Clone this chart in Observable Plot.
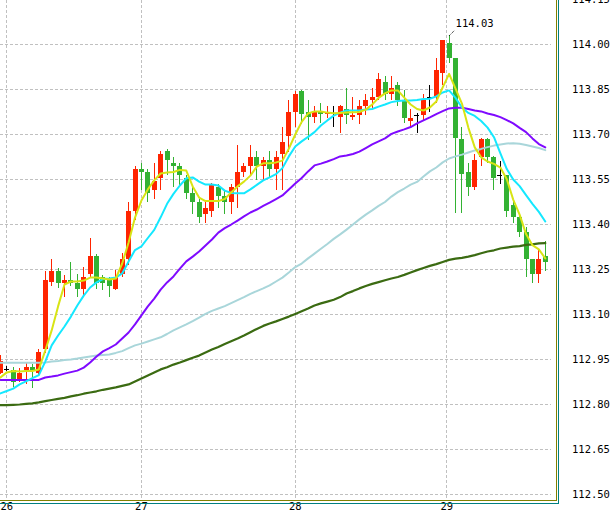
<!DOCTYPE html>
<html><head><meta charset="utf-8">
<script src="https://cdn.jsdelivr.net/npm/d3@7"></script>
<script src="https://cdn.jsdelivr.net/npm/@observablehq/plot@0.6"></script>
<style>html,body{margin:0;padding:0;background:#fff;}#chart svg{display:block;}</style>
</head><body><div id="chart"></div>
<script>
// Hourly candles (index 0..85)
const opens = [112.905,112.918,112.914,112.884,112.914,112.925,112.905,112.984,113.207,113.243,
113.205,113.214,113.205,113.185,113.235,113.294,113.223,113.214,113.185,113.234,
113.284,113.445,113.584,113.575,113.514,113.555,113.644,113.605,113.594,113.555,
113.505,113.475,113.434,113.445,113.525,113.495,113.475,113.525,113.575,113.595,
113.625,113.595,113.614,113.585,113.634,113.695,113.775,113.845,113.775,113.757,
113.775,113.767,113.772,113.757,113.783,113.757,113.765,113.794,113.814,113.825,
113.875,113.834,113.864,113.814,113.745,113.764,113.764,113.823,113.825,113.905,
114.005,113.953,113.684,113.573,113.525,113.625,113.684,113.625,113.563,113.563,
113.464,113.425,113.374,113.284,113.234,113.294];
const highs = [112.964,112.928,112.925,112.922,112.942,112.934,112.985,113.243,113.284,113.253,
113.232,113.273,113.233,113.259,113.355,113.301,113.231,113.225,113.248,113.303,
113.475,113.594,113.605,113.584,113.605,113.644,113.651,113.625,113.605,113.564,
113.525,113.484,113.475,113.538,113.535,113.514,113.535,113.665,113.605,113.665,
113.644,113.625,113.644,113.644,113.725,113.814,113.845,113.847,113.814,113.794,
113.805,113.794,113.794,113.798,113.854,113.823,113.814,113.834,113.854,113.905,
113.894,113.894,113.875,113.848,113.783,113.772,113.833,113.864,113.955,114.016,
114.03,113.954,113.723,113.603,113.633,113.688,113.688,113.627,113.612,113.565,
113.481,113.427,113.392,113.286,113.314,113.344];
const lows = [112.901,112.911,112.859,112.875,112.867,112.855,112.898,112.970,113.195,113.187,
113.159,113.195,113.159,113.164,113.223,113.185,113.181,113.157,113.181,113.223,
113.264,113.414,113.514,113.475,113.484,113.514,113.564,113.525,113.525,113.484,
113.434,113.405,113.405,113.425,113.455,113.434,113.434,113.455,113.559,113.564,
113.548,113.545,113.559,113.514,113.514,113.642,113.725,113.734,113.681,113.737,
113.737,113.753,113.725,113.705,113.734,113.748,113.734,113.764,113.783,113.814,
113.814,113.814,113.794,113.737,113.725,113.705,113.745,113.775,113.803,113.864,
113.937,113.437,113.437,113.495,113.514,113.595,113.604,113.514,113.534,113.425,
113.405,113.357,113.225,113.203,113.205,113.244];
const closes = [112.945,112.918,112.875,112.904,112.925,112.914,112.974,113.214,113.243,113.203,
113.214,113.205,113.185,113.225,113.294,113.205,113.203,113.195,113.223,113.284,
113.445,113.584,113.575,113.505,113.544,113.634,113.614,113.595,113.564,113.505,
113.475,113.425,113.455,113.535,113.495,113.475,113.525,113.575,113.595,113.625,
113.595,113.614,113.585,113.625,113.675,113.775,113.834,113.767,113.757,113.775,
113.767,113.775,113.772,113.794,113.765,113.764,113.794,113.814,113.825,113.884,
113.834,113.855,113.814,113.755,113.755,113.764,113.814,113.823,113.914,114.014,
113.955,113.687,113.567,113.525,113.614,113.684,113.625,113.555,113.563,113.444,
113.425,113.374,113.284,113.234,113.284,113.274];

// Moving average lines
const maYellow = [112.891,112.908,112.913,112.911,112.913,112.913,112.918,112.981,113.048,113.128,
113.201,113.211,113.211,113.214,113.224,113.224,113.221,113.218,113.221,113.271,
113.341,113.424,113.481,113.518,113.548,113.571,113.574,113.576,113.583,113.581,
113.528,113.491,113.479,113.479,113.479,113.486,113.508,113.528,113.544,113.564,
113.594,113.605,113.605,113.608,113.614,113.654,113.701,113.743,113.771,113.778,
113.778,113.774,113.772,113.773,113.774,113.775,113.776,113.784,113.801,113.823,
113.838,113.848,113.848,113.824,113.801,113.786,113.781,113.791,113.811,113.858,
113.903,113.854,113.804,113.724,113.658,113.625,113.611,113.603,113.591,113.552,
113.484,113.434,113.369,113.332,113.318,113.288];
const maCyan = [112.838,112.846,112.854,112.868,112.878,112.889,112.899,112.944,112.998,113.031,
113.061,113.094,113.131,113.164,113.191,113.208,113.219,113.221,113.224,113.238,
113.278,113.316,113.328,113.356,113.383,113.425,113.470,113.503,113.531,113.555,
113.558,113.544,113.534,113.534,113.531,113.514,113.506,113.505,113.505,113.518,
113.533,113.548,113.558,113.569,113.589,113.628,113.661,113.678,113.693,113.709,
113.731,113.748,113.764,113.774,113.781,113.781,113.781,113.784,113.786,113.794,
113.801,113.809,113.813,113.814,113.814,113.816,113.819,113.820,113.828,113.841,
113.848,113.823,113.791,113.773,113.763,113.746,113.724,113.692,113.638,113.586,
113.551,113.529,113.499,113.470,113.443,113.411];
const maPurple = [112.883,112.883,112.883,112.883,112.883,112.883,112.883,112.891,112.894,112.898,
112.904,112.909,112.914,112.924,112.941,112.961,112.978,112.989,113.001,113.021,
113.041,113.068,113.098,113.128,113.154,113.184,113.208,113.228,113.254,113.278,
113.294,113.311,113.331,113.351,113.374,113.389,113.401,113.414,113.428,113.441,
113.451,113.463,113.474,113.486,113.498,113.518,113.538,113.556,113.578,113.598,
113.604,113.611,113.619,113.628,113.631,113.636,113.644,113.656,113.668,113.678,
113.688,113.703,113.711,113.718,113.726,113.738,113.748,113.758,113.769,113.779,
113.788,113.790,113.790,113.786,113.781,113.778,113.771,113.766,113.759,113.749,
113.738,113.723,113.709,113.688,113.669,113.658];
const maLightBlue = [112.940,112.940,112.940,112.940,112.940,112.940,112.940,112.941,112.944,112.946,
112.949,112.951,112.954,112.958,112.961,112.964,112.966,112.968,112.973,112.979,
112.989,112.998,113.004,113.011,113.018,113.025,113.036,113.048,113.058,113.068,
113.079,113.091,113.103,113.113,113.121,113.129,113.139,113.149,113.159,113.170,
113.179,113.188,113.198,113.211,113.224,113.241,113.259,113.271,113.288,113.304,
113.320,113.336,113.353,113.368,113.384,113.401,113.418,113.434,113.448,113.463,
113.476,113.494,113.509,113.521,113.534,113.543,113.561,113.578,113.591,113.608,
113.621,113.628,113.634,113.641,113.648,113.653,113.659,113.664,113.668,113.671,
113.672,113.670,113.666,113.661,113.656,113.649];
const maDarkGreen = [112.799,112.799,112.800,112.801,112.803,112.805,112.808,112.812,112.816,112.820,
112.823,112.828,112.832,112.837,112.841,112.845,112.850,112.854,112.858,112.863,
112.868,112.878,112.888,112.898,112.908,112.918,112.925,112.934,112.941,112.949,
112.957,112.964,112.974,112.984,112.993,113.003,113.012,113.021,113.031,113.042,
113.053,113.063,113.071,113.078,113.086,113.094,113.103,113.112,113.121,113.131,
113.138,113.144,113.150,113.159,113.171,113.179,113.188,113.196,113.203,113.209,
113.215,113.221,113.226,113.233,113.241,113.249,113.256,113.263,113.269,113.276,
113.283,113.287,113.290,113.294,113.299,113.305,113.311,113.315,113.321,113.324,
113.327,113.329,113.333,113.335,113.338,113.339];

const dayTicks = [1, 22, 46, 69.65];
const dayLabels = ["26", "27", "28", "29"];
const priceTicks = [112.50, 112.65, 112.80, 112.95, 113.10, 113.25, 113.40, 113.55, 113.70, 113.85, 114.00, 114.15];

const candles = opens.map((o, i) => ({i, o, h: highs[i], l: lows[i], c: closes[i]}));
const colorOf = d => d.c > d.o ? "#ff2400" : d.c < d.o ? "#33b233" : "#000000";
const bodies = candles.filter(d => d.c !== d.o);
const dojis = candles.filter(d => d.c === d.o);
const peak = candles.reduce((a, b) => b.h > a.h ? b : a);

function series(arr) { return arr.map((v, i) => ({i, v})); }

const FONT = "DejaVu Sans Mono";
const chartSvg = Plot.plot({
  width: 610, height: 514,
  marginLeft: 0, marginRight: 53.5, marginTop: 0, marginBottom: 14,
  style: {fontFamily: FONT, fontSize: "10.5px", color: "#000", background: "#fff"},
  x: {type: "linear", domain: [0.017, 86.83], label: null},
  y: {domain: [112.481, 114.1477], label: null},
  marks: [
    Plot.gridY(priceTicks, {stroke: "#c0c0c0", strokeOpacity: 1, strokeDasharray: "3,2", insetRight: 6, shapeRendering: "crispEdges"}),
    Plot.gridX(dayTicks, {stroke: "#c0c0c0", strokeOpacity: 1, strokeDasharray: "3,2", shapeRendering: "crispEdges"}),
    Plot.ruleX(candles, {x: "i", y1: "l", y2: "h", stroke: colorOf, strokeWidth: 1, shapeRendering: "crispEdges"}),
    Plot.ruleX(bodies, {x: "i", y1: "o", y2: "c", stroke: colorOf, strokeWidth: 5, shapeRendering: "crispEdges"}),
    Plot.ruleY(dojis, {y: "c", x1: d => d.i - 0.4, x2: d => d.i + 0.4, stroke: "#000", strokeWidth: 1, shapeRendering: "crispEdges"}),
    Plot.line(series(maDarkGreen), {x: "i", y: "v", stroke: "#3b6b12", strokeWidth: 2.2}),
    Plot.line(series(maLightBlue), {x: "i", y: "v", stroke: "#a9d6da", strokeWidth: 2}),
    Plot.line(series(maPurple), {x: "i", y: "v", stroke: "#7f0aff", strokeWidth: 2}),
    Plot.line(series(maCyan), {x: "i", y: "v", stroke: "#14e8ff", strokeWidth: 2}),
    Plot.line(series(maYellow), {x: "i", y: "v", stroke: "#d8e414", strokeWidth: 2}),
    Plot.link([peak], {x1: "i", y1: "h", x2: d => d.i + 0.8, y2: d => d.h + 0.017, stroke: "#000", strokeWidth: 1, strokeDasharray: "1,1"}),
    Plot.text([peak], {x: "i", y: "h", text: d => d.h.toFixed(2), dx: 6.5, dy: -12, textAnchor: "start", fill: "#000", fontSize: 10.5}),
    Plot.axisY(priceTicks, {anchor: "right", tickSize: 0, tickPadding: 15, tickFormat: d => d.toFixed(2), label: null, fontSize: 10.5, fill: "#000"}),
    Plot.axisX(dayTicks, {anchor: "bottom", tickSize: 0, tickPadding: 2, tickFormat: d => dayLabels[dayTicks.indexOf(d)], label: null, fontSize: 10.5, fill: "#000"})
  ]
});
document.getElementById("chart").appendChild(chartSvg);

// chart window borders
const frames = [
  {x1: 556.5, y1: 0, x2: 556.5, y2: 500.5, c: "#808000"},
  {x1: 0, y1: 500.5, x2: 557, y2: 500.5, c: "#808000"},
  {x1: 558.5, y1: 0, x2: 558.5, y2: 504, c: "#008080"},
  {x1: 0, y1: 503.5, x2: 559, y2: 503.5, c: "#008080"}
];
d3.select(chartSvg).selectAll("line.frame").data(frames).join("line").attr("class", "frame")
  .attr("x1", d => d.x1).attr("y1", d => d.y1).attr("x2", d => d.x2).attr("y2", d => d.y2)
  .attr("stroke", d => d.c).attr("stroke-width", 1).attr("shape-rendering", "crispEdges");
</script>
</body></html>
